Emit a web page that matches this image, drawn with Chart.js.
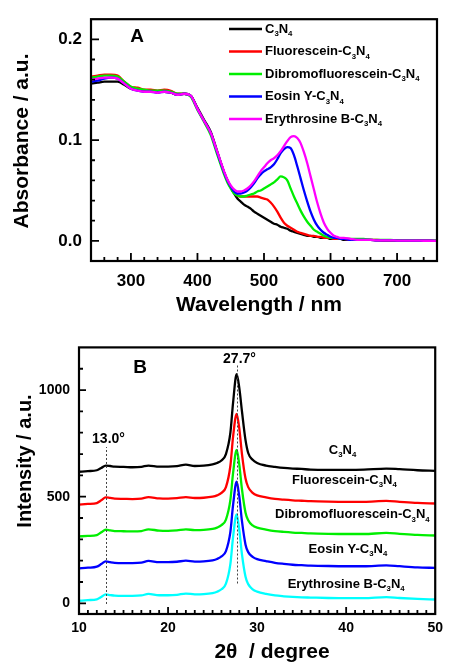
<!DOCTYPE html>
<html>
<head>
<meta charset="utf-8">
<script src="https://cdn.jsdelivr.net/npm/chart.js@4.4.1/dist/chart.umd.min.js"></script>
<style>
  html, body { margin: 0; padding: 0; background: #fff; overflow: hidden; }
  #wrap { position: relative; width: 449px; height: 663px; }
  canvas { position: absolute; left: 0; }
  #absChart { top: 0; }
  #xrdChart { top: 330px; }
</style>
</head>
<body>
<div id="wrap">
  <canvas id="absChart" width="449" height="330"></canvas>
  <canvas id="xrdChart" width="449" height="333"></canvas>
</div>
<script>
// ---- Panel A : absorption spectra ----
const absNames = ['C3N4', 'Fluorescein-C3N4', 'Dibromofluorescein-C3N4', 'Eosin Y-C3N4', 'Erythrosine B-C3N4'];
const wavelength = [240, 250, 260, 270, 280, 290, 300, 310, 320, 330, 340, 350, 360, 370, 380, 390, 400, 410, 420, 430, 440,
  445, 450, 455, 460, 465, 470, 475, 480, 485, 490, 495, 500, 505, 510, 515, 520, 525, 530, 535, 540, 545, 550, 555, 560,
  565, 570, 575, 580, 585, 590, 595, 600, 605, 610, 615, 620,
  630, 640, 650, 660, 670, 680, 690, 700, 710, 720, 730, 740, 750, 760];
const absC3N4 = [0.156, 0.157, 0.158, 0.158, 0.158, 0.155, 0.151, 0.150, 0.149, 0.149, 0.148, 0.148, 0.147, 0.145, 0.146, 0.144, 0.132, 0.120, 0.108, 0.088, 0.068,
  0.060, 0.053, 0.047, 0.042, 0.039, 0.036, 0.034, 0.032, 0.029, 0.027, 0.025, 0.023, 0.021, 0.019, 0.017, 0.016, 0.014, 0.013, 0.012, 0.010, 0.009, 0.008, 0.007, 0.006,
  0.005, 0.005, 0.004, 0.004, 0.003, 0.003, 0.003, 0.002, 0.002, 0.002, 0.002, 0.001,
  0.001, 0.001, 0.001, 0.001, 0.0005, 0.0005, 0.0005, 0.0003, 0.0003, 0.0002, 0.0002, 0.0001, 0.0001, 0];
const absFluorescein = [0.163, 0.164, 0.165, 0.165, 0.164, 0.158, 0.153, 0.152, 0.150, 0.150, 0.149, 0.150, 0.149, 0.146, 0.146, 0.144, 0.131, 0.119, 0.107, 0.087, 0.068,
  0.060, 0.053, 0.048, 0.045, 0.044, 0.044, 0.044, 0.044, 0.044, 0.044, 0.043, 0.042, 0.041, 0.038, 0.034, 0.029, 0.023, 0.018, 0.015, 0.013, 0.011, 0.009, 0.008, 0.007,
  0.006, 0.005, 0.005, 0.004, 0.004, 0.003, 0.003, 0.003, 0.002, 0.002, 0.002, 0.002,
  0.001, 0.001, 0.001, 0.001, 0.001, 0.0005, 0.0005, 0.0005, 0.0003, 0.0003, 0.0002, 0.0002, 0.0001, 0];
const absDibromo = [0.162, 0.163, 0.164, 0.164, 0.163, 0.158, 0.153, 0.151, 0.150, 0.149, 0.149, 0.149, 0.148, 0.146, 0.146, 0.143, 0.130, 0.118, 0.105, 0.085, 0.066,
  0.058, 0.052, 0.047, 0.045, 0.044, 0.044, 0.045, 0.046, 0.047, 0.049, 0.050, 0.052, 0.054, 0.056, 0.058, 0.061, 0.064, 0.063, 0.060, 0.052, 0.044, 0.037, 0.030, 0.024,
  0.019, 0.015, 0.011, 0.009, 0.007, 0.005, 0.004, 0.003, 0.003, 0.003, 0.002, 0.002,
  0.002, 0.002, 0.002, 0.001, 0.001, 0.001, 0.001, 0.0005, 0.0005, 0.0005, 0.0003, 0.0003, 0.0002, 0.0001];
const absEosin = [0.158, 0.159, 0.161, 0.162, 0.161, 0.156, 0.151, 0.149, 0.148, 0.148, 0.147, 0.148, 0.147, 0.145, 0.146, 0.144, 0.131, 0.119, 0.107, 0.087, 0.068,
  0.060, 0.054, 0.049, 0.047, 0.047, 0.048, 0.050, 0.053, 0.057, 0.062, 0.066, 0.069, 0.071, 0.073, 0.076, 0.081, 0.087, 0.091, 0.093, 0.092, 0.085, 0.074, 0.062, 0.050,
  0.039, 0.029, 0.021, 0.015, 0.011, 0.008, 0.006, 0.004, 0.003, 0.003, 0.002, 0.002,
  0.001, 0.001, 0.001, 0.001, 0.0005, 0.0005, 0.0005, 0.0003, 0.0003, 0.0002, 0.0002, 0.0001, 0.0001, 0];
const absErythrosine = [0.160, 0.161, 0.162, 0.162, 0.161, 0.156, 0.151, 0.149, 0.148, 0.148, 0.147, 0.148, 0.147, 0.145, 0.146, 0.144, 0.131, 0.119, 0.107, 0.088, 0.069,
  0.061, 0.055, 0.051, 0.049, 0.049, 0.050, 0.052, 0.055, 0.059, 0.064, 0.069, 0.073, 0.077, 0.080, 0.082, 0.085, 0.089, 0.094, 0.099, 0.103, 0.104, 0.102, 0.097, 0.088,
  0.077, 0.064, 0.051, 0.038, 0.027, 0.018, 0.012, 0.008, 0.005, 0.004, 0.003, 0.003,
  0.002, 0.001, 0.001, 0.001, 0.0005, 0.0005, 0.0005, 0.0003, 0.0003, 0.0002, 0.0002, 0.0001, 0.0001, 0];
const absSeries = [absC3N4, absFluorescein, absDibromo, absEosin, absErythrosine];
const waveTicks = [300, 400, 500, 600, 700];
const absTicks = [0, 0.1, 0.2];

// ---- Panel B : XRD patterns (already offset like in the figure) ----
const xrdNames = ['C3N4', 'Fluorescein-C3N4', 'Dibromofluorescein-C3N4', 'Eosin Y-C3N4', 'Erythrosine B-C3N4'];
const twoTheta = [10, 11, 12, 12.5, 13, 13.5, 14, 15, 16, 17, 17.8, 19, 20, 21, 22, 23, 24, 25, 25.5, 26, 26.5,
  27, 27.3, 27.7, 28, 28.3, 28.7, 29, 29.5, 30, 31, 32, 33, 34, 35, 36, 38, 40, 42, 44.5, 46, 48, 50];
const xrdC3N4 = [617, 620, 624, 635, 646, 644, 641, 640, 638, 640, 646, 641, 641, 643, 650, 644, 646, 652, 658, 670, 700,
  800, 940, 1074, 1010, 900, 765, 705, 673, 658, 646, 640, 635, 632, 630, 627, 626, 626, 627, 632, 629, 624, 621];
const xrdFluorescein = [463, 466, 470, 483, 497, 494, 491, 490, 489, 491, 498, 492, 491, 493, 498, 494, 495, 500, 506, 518, 545,
  645, 780, 888, 820, 700, 585, 545, 518, 506, 497, 490, 486, 483, 481, 479, 477, 476, 476, 480, 476, 471, 468];
const xrdDibromo = [314, 316, 320, 333, 345, 342, 339, 338, 337, 339, 347, 341, 340, 342, 347, 343, 344, 349, 355, 367, 393,
  485, 610, 719, 650, 535, 425, 390, 365, 355, 346, 339, 335, 332, 330, 328, 326, 325, 325, 330, 326, 321, 318];
const xrdEosin = [164, 167, 172, 184, 197, 193, 190, 189, 189, 191, 199, 193, 193, 195, 200, 196, 197, 202, 208, 220, 245,
  335, 460, 570, 500, 385, 275, 240, 218, 207, 198, 190, 185, 181, 179, 177, 175, 174, 174, 178, 174, 169, 166];
const xrdErythrosine = [12, 15, 19, 30, 42, 39, 36, 35, 35, 37, 44, 38, 38, 40, 46, 42, 43, 48, 54, 66, 92,
  185, 310, 417, 345, 230, 125, 90, 66, 55, 44, 37, 33, 30, 28, 27, 25, 24, 24, 29, 25, 21, 18];
const xrdSeries = [xrdC3N4, xrdFluorescein, xrdDibromo, xrdEosin, xrdErythrosine];
const thetaTicks = [10, 20, 30, 40, 50];
const intensityTicks = [0, 500, 1000];
const peakMarks = [13.0, 27.7];

const absColors = ['#000000', '#ff0000', '#00ee00', '#0000ff', '#ff00ff'];
const xrdColors = ['#000000', '#ff0000', '#00ee00', '#0000ff', '#00ffff'];
const FONT = '"Liberation Sans", Arial, sans-serif';

// texte avec indices : les chiffres (C3N4) sont écrits petits et plus bas
function richParts(text) { return text.match(/\d+|\D+/g); }
function richWidth(ctx, text, size) {
  let w = 0;
  for (const p of richParts(text)) {
    ctx.font = `bold ${/\d/.test(p) ? size * 0.6 : size}px ${FONT}`;
    w += ctx.measureText(p).width;
  }
  return w;
}
function drawRich(ctx, text, x, y, size, align) {
  let cx = align === 'center' ? x - richWidth(ctx, text, size) / 2 : x;
  ctx.textAlign = 'left';
  ctx.textBaseline = 'middle';
  for (const p of richParts(text)) {
    const sub = /\d/.test(p);
    ctx.font = `bold ${sub ? size * 0.6 : size}px ${FONT}`;
    ctx.fillText(p, cx, sub ? y + size * 0.38 : y);
    cx += ctx.measureText(p).width;
  }
}

function isMultiple(v, step) {
  return Math.abs(v / step - Math.round(v / step)) < 1e-6;
}

// cadre, graduations vers l'intérieur, titres des axes et lettre du panneau
const frameTicks = {
  id: 'frameTicks',
  afterDraw(chart, args, o) {
    const { ctx, chartArea: a, scales: { x, y } } = chart;
    ctx.save();
    ctx.strokeStyle = '#000';
    ctx.lineWidth = 1.8;
    ctx.beginPath();
    for (let i = 0; ; i++) {
      const v = o.xStart + i * o.xMinor;
      if (v > x.max) break;
      const px = x.getPixelForValue(v);
      if (px < a.left + 2 || px > a.right - 2) continue;
      const len = isMultiple(v, o.xMajor) ? o.majorLen : o.minorLen;
      ctx.moveTo(px, a.bottom);
      ctx.lineTo(px, a.bottom - len);
    }
    for (let i = 0; ; i++) {
      const v = o.yStart + i * o.yMinor;
      if (v > y.max) break;
      const py = y.getPixelForValue(v);
      if (py < a.top + 2 || py > a.bottom - 2) continue;
      const len = isMultiple(v, o.yMajor) ? o.majorLen : o.minorLen;
      ctx.moveTo(a.left, py);
      ctx.lineTo(a.left + len, py);
    }
    ctx.stroke();
    ctx.lineWidth = 2.2;
    ctx.strokeRect(a.left, a.top, a.right - a.left, a.bottom - a.top);

    ctx.fillStyle = '#000';
    ctx.textAlign = 'center';
    ctx.textBaseline = 'middle';
    ctx.font = `bold ${o.xTitle.size}px ${FONT}`;
    ctx.fillText(o.xTitle.text, o.xTitle.x, o.xTitle.y);
    ctx.save();
    ctx.translate(o.yTitle.x, o.yTitle.y);
    ctx.rotate(-Math.PI / 2);
    ctx.font = `bold ${o.yTitle.size}px ${FONT}`;
    ctx.fillText(o.yTitle.text, 0, 0);
    ctx.restore();
    ctx.font = `bold 19px ${FONT}`;
    ctx.fillText(o.letter.text, o.letter.x, o.letter.y);
    ctx.restore();
  }
};

// légende du panneau A
const absLegend = {
  id: 'absLegend',
  afterDraw(chart, args, o) {
    const ctx = chart.ctx;
    ctx.save();
    chart.data.datasets.forEach((ds, i) => {
      const yy = o.y0 + i * o.dy;
      ctx.strokeStyle = ds.borderColor;
      ctx.lineWidth = 2.5;
      ctx.beginPath();
      ctx.moveTo(o.x0, yy);
      ctx.lineTo(o.x1, yy);
      ctx.stroke();
      ctx.fillStyle = '#000';
      drawRich(ctx, ds.label, o.tx, yy, o.size, 'left');
    });
    ctx.restore();
  }
};

// noms des courbes et repères pointillés du panneau B
const xrdLabels = {
  id: 'xrdLabels',
  afterDraw(chart, args, o) {
    const { ctx, scales: { x, y } } = chart;
    ctx.save();
    ctx.fillStyle = '#000';
    chart.data.datasets.forEach((ds, i) => {
      const p = o.at[i];
      drawRich(ctx, ds.label, x.getPixelForValue(p[0]), y.getPixelForValue(p[1]), o.size, 'center');
    });
    ctx.strokeStyle = '#444';
    ctx.lineWidth = 1;
    ctx.setLineDash([2, 2]);
    o.marks.forEach((m, i) => {
      const px = Math.round(x.getPixelForValue(peakMarks[i])) + 0.5;
      ctx.beginPath();
      ctx.moveTo(px, y.getPixelForValue(m.from));
      ctx.lineTo(px, y.getPixelForValue(m.to));
      ctx.stroke();
      ctx.font = `bold 14px ${FONT}`;
      ctx.textAlign = 'center';
      ctx.textBaseline = 'middle';
      ctx.fillText(peakMarks[i].toFixed(1) + '°', px + 2, y.getPixelForValue(m.labelAt));
    });
    ctx.restore();
  }
};

function tickFont(size) {
  return { family: FONT, size: size, weight: 'bold' };
}

new Chart(document.getElementById('absChart'), {
  type: 'line',
  data: {
    datasets: absNames.map((name, i) => ({
      label: name,
      data: wavelength.map((w, k) => ({ x: w, y: absSeries[i][k] })),
      borderColor: absColors[i],
      borderWidth: 2.3,
      pointRadius: 0,
      cubicInterpolationMode: 'monotone',
      order: absNames.length - i
    }))
  },
  options: {
    responsive: false,
    animation: false,
    devicePixelRatio: 1,
    layout: { padding: { top: 14, right: 12, left: 0, bottom: 0 } },
    plugins: {
      legend: { display: false },
      tooltip: { enabled: false },
      frameTicks: {
        xStart: 240, xMinor: 20, xMajor: 100,
        yStart: 0, yMinor: 0.02, yMajor: 0.1,
        majorLen: 8, minorLen: 4,
        xTitle: { text: 'Wavelength / nm', size: 21, x: 259, y: 305 },
        yTitle: { text: 'Absorbance / a.u.', size: 21, x: 22, y: 141 },
        letter: { text: 'A', x: 137, y: 37 }
      },
      absLegend: { x0: 229, x1: 262, tx: 265, y0: 29, dy: 22.5, size: 13 }
    },
    scales: {
      x: {
        type: 'linear', min: 240, max: 760,
        grid: { display: false, drawTicks: false },
        border: { display: false },
        afterBuildTicks: s => { s.ticks = waveTicks.map(v => ({ value: v })); },
        afterFit: s => { s.height = 69; },
        ticks: { padding: 10, color: '#000', font: tickFont(17), maxRotation: 0, callback: v => String(v) }
      },
      y: {
        min: -0.02, max: 0.22,
        grid: { display: false, drawTicks: false },
        border: { display: false },
        afterBuildTicks: s => { s.ticks = absTicks.map(v => ({ value: v })); },
        afterFit: s => { s.width = 91; },
        ticks: { padding: 9, color: '#000', font: tickFont(17), callback: v => v.toFixed(1) }
      }
    }
  },
  plugins: [frameTicks, absLegend]
});

new Chart(document.getElementById('xrdChart'), {
  type: 'line',
  data: {
    datasets: xrdNames.map((name, i) => ({
      label: name,
      data: twoTheta.map((t, k) => ({ x: t, y: xrdSeries[i][k] })),
      borderColor: xrdColors[i],
      borderWidth: 2.3,
      pointRadius: 0,
      cubicInterpolationMode: 'monotone',
      order: xrdNames.length - i
    }))
  },
  options: {
    responsive: false,
    animation: false,
    devicePixelRatio: 1,
    layout: { padding: { top: 12, right: 7, left: 0, bottom: 0 } },
    plugins: {
      legend: { display: false },
      tooltip: { enabled: false },
      frameTicks: {
        xStart: 10, xMinor: 1, xMajor: 10,
        yStart: 0, yMinor: 100, yMajor: 500,
        majorLen: 7, minorLen: 4,
        xTitle: { text: '2θ  / degree', size: 21, x: 272, y: 322 },
        yTitle: { text: 'Intensity / a.u.', size: 20, x: 25, y: 131 },
        letter: { text: 'B', x: 140, y: 38 }
      },
      xrdLabels: {
        size: 13,
        at: [[39.6, 719], [39.8, 577], [40.7, 416], [40.2, 254], [40.0, 89]],
        marks: [{ from: -3, to: 733, labelAt: 770 }, { from: 93, to: 1120, labelAt: 1143 }]
      }
    },
    scales: {
      x: {
        type: 'linear', min: 10, max: 50,
        grid: { display: false, drawTicks: false },
        border: { display: false },
        afterBuildTicks: s => { s.ticks = thetaTicks.map(v => ({ value: v })); },
        afterFit: s => { s.height = 49; },
        ticks: { padding: 6, color: '#000', font: tickFont(14), maxRotation: 0, callback: v => String(v) }
      },
      y: {
        min: -50, max: 1200,
        grid: { display: false, drawTicks: false },
        border: { display: false },
        afterBuildTicks: s => { s.ticks = intensityTicks.map(v => ({ value: v })); },
        afterFit: s => { s.width = 79; },
        ticks: { padding: 9, color: '#000', font: tickFont(14), callback: v => String(v) }
      }
    }
  },
  plugins: [frameTicks, xrdLabels]
});
</script>
</body>
</html>
